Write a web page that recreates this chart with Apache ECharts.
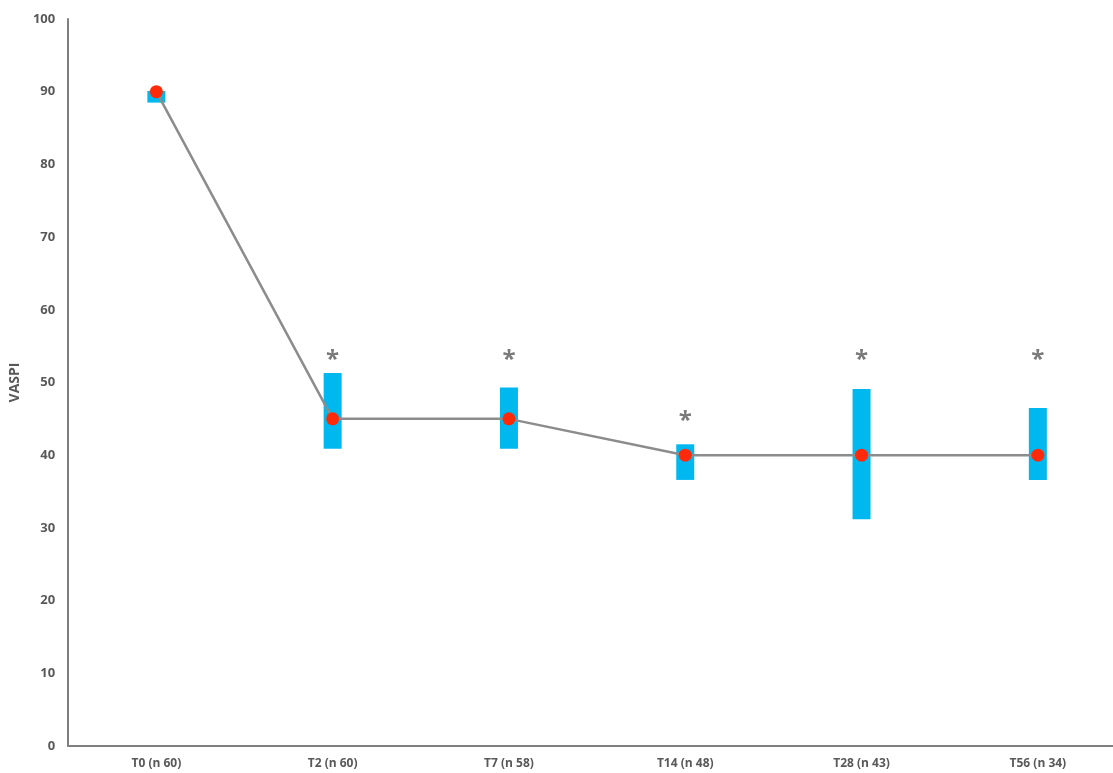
<!DOCTYPE html>
<html>
<head>
<meta charset="utf-8">
<script src="https://cdn.jsdelivr.net/npm/echarts@6/dist/echarts.min.js"></script>
<style>
  html, body { margin: 0; padding: 0; background: #ffffff; overflow: hidden; }
  /* plot runs slightly past the right edge of the page, like a cropped figure */
  #chart { width: 1126px; height: 773px; }
</style>
</head>
<body>
<div id="chart"></div>
<script>
// Time points with number of patients
const categories = ['T0 (n 60)', 'T2 (n 60)', 'T7 (n 58)', 'T14 (n 48)', 'T28 (n 43)', 'T56 (n 34)'];
// Median VASPI at each time point
const medians = [90, 45, 45, 40, 40, 40];
// Interquartile range bounds
const q1 = [88.5, 40.9, 40.9, 36.6, 31.2, 36.6];
const q3 = [90.1, 51.3, 49.3, 41.5, 49.1, 46.5];
// Height at which the significance asterisk is placed (null = none)
const sigMarks = [null, 53.9, 53.9, 45.5, 53.9, 53.9];
const yTicks = { min: 0, max: 100, interval: 10 };

const iqrBase = q1;
const iqrSpan = q3.map((v, i) => +(v - q1[i]).toFixed(2));

const chart = echarts.init(document.getElementById('chart'), null, { renderer: 'canvas' });
const labelFont = "'Open Sans', 'Liberation Sans', sans-serif";

chart.setOption({
  animation: false,
  backgroundColor: '#ffffff',
  grid: { left: 68, right: 0, top: 19, bottom: 27, containLabel: false },
  xAxis: {
    type: 'category',
    data: categories,
    boundaryGap: true,
    axisLine: { show: true, lineStyle: { color: '#7f7f7f', width: 2 } },
    axisTick: { show: false },
    axisLabel: { color: '#595959', fontFamily: labelFont, fontWeight: 'bold', fontSize: 12, margin: 12 },
    splitLine: { show: false }
  },
  yAxis: {
    type: 'value',
    min: yTicks.min, max: yTicks.max, interval: yTicks.interval,
    name: 'VASPI',
    nameLocation: 'middle',
    nameGap: 39,
    nameTextStyle: { color: '#595959', fontFamily: labelFont, fontWeight: 'bold', fontSize: 14 },
    axisLine: { show: true, lineStyle: { color: '#7f7f7f', width: 2 } },
    axisTick: { show: false },
    axisLabel: { color: '#595959', fontFamily: labelFont, fontWeight: 'bold', fontSize: 13, margin: 13 },
    splitLine: { show: false }
  },
  series: [
    {
      name: 'base', type: 'bar', stack: 'iqr', data: iqrBase, barWidth: 18,
      itemStyle: { color: 'rgba(0,0,0,0)' }, silent: true, z: 1
    },
    {
      name: 'IQR', type: 'bar', stack: 'iqr', data: iqrSpan, barWidth: 18,
      itemStyle: { color: '#00b8f0' }, z: 1
    },
    {
      name: 'Median', type: 'line', data: medians,
      symbol: 'circle', symbolSize: 13,
      lineStyle: { color: '#8c8c8c', width: 2.5 },
      itemStyle: { color: '#ff2a0a' },
      z: 3
    },
    {
      name: 'Significance', type: 'scatter', data: sigMarks,
      symbolSize: 1, itemStyle: { color: 'rgba(0,0,0,0)' },
      label: {
        show: true, position: 'inside', formatter: '*',
        color: '#595959', fontSize: 24, fontWeight: 'bold', fontFamily: labelFont,
        offset: [0, 6]
      },
      z: 4
    }
  ]
});
</script>
</body>
</html>
